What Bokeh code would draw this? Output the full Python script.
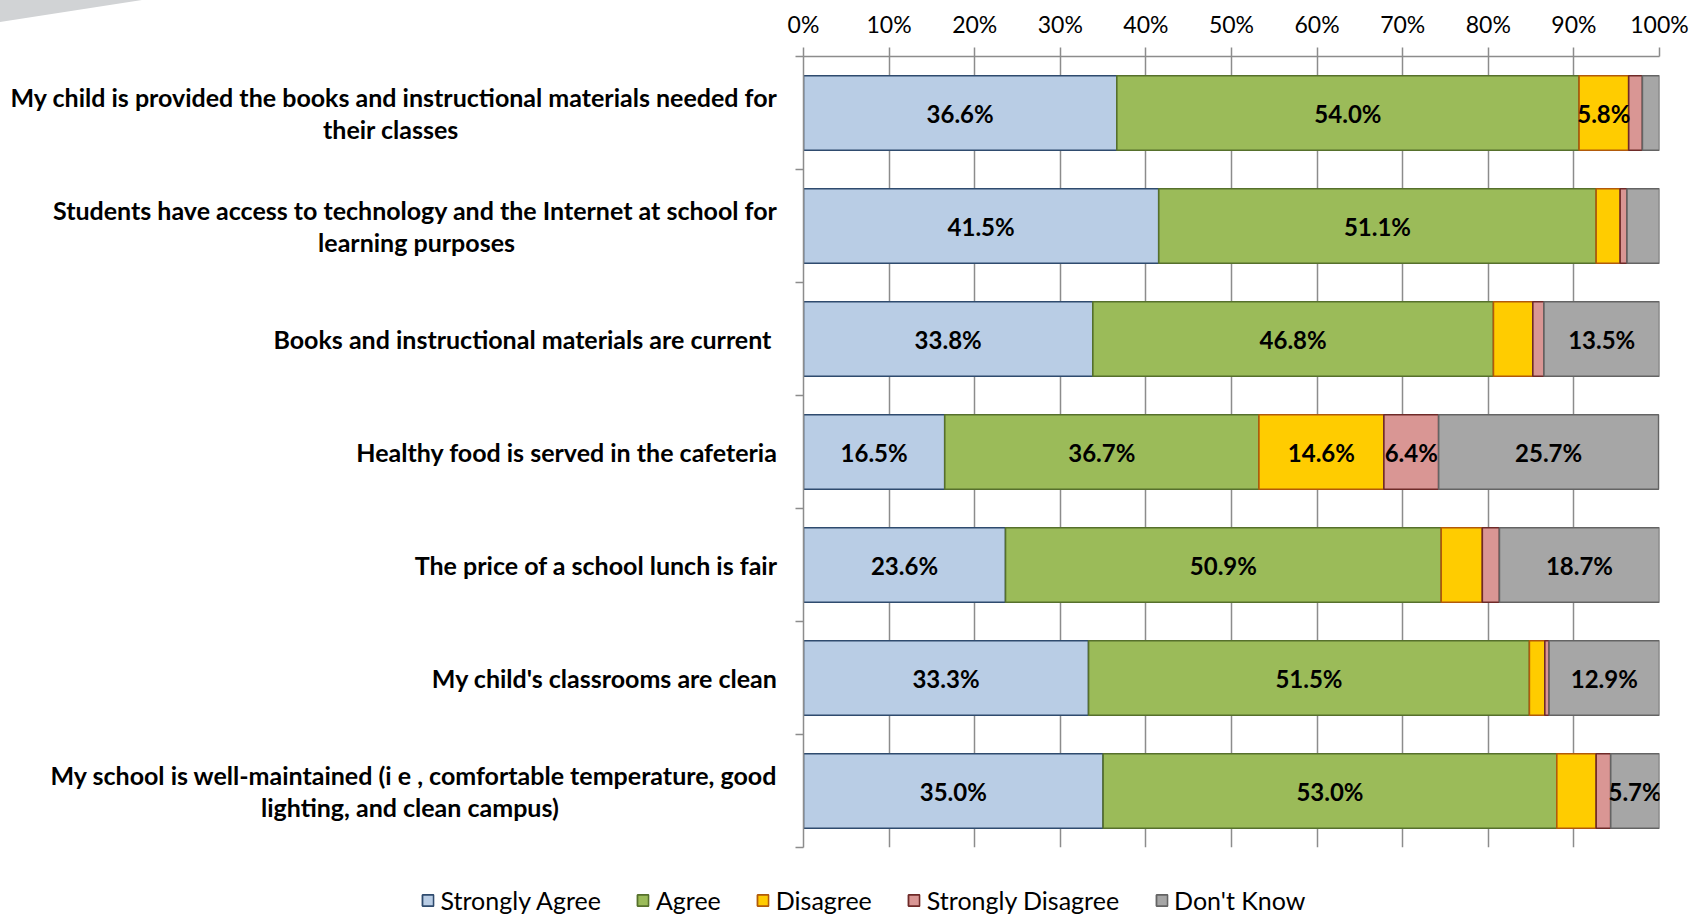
from bokeh.plotting import figure
from bokeh.models import (Range1d, FixedTicker, Legend, LegendItem, LabelSet,
                          ColumnDataSource, Div)
from bokeh.core.properties import value
from bokeh.embed import file_html
from bokeh.resources import INLINE

categories = [
    "My child is provided the books and instructional materials needed for\ntheir classes",
    "Students have access to technology and the Internet at school for\nlearning purposes",
    "Books and instructional  materials are current",
    "Healthy food is served in the cafeteria",
    "The price of a school lunch is fair",
    "My child's classrooms are clean",
    "My school is well-maintained (i e , comfortable temperature, good\nlighting, and clean campus)",
]
strongly_agree = [36.6, 41.5, 33.8, 16.5, 23.6, 33.3, 35.0]
agree = [54.0, 51.1, 46.8, 36.7, 50.9, 51.5, 53.0]
disagree = [5.8, 2.8, 4.6, 14.6, 4.8, 1.8, 4.6]
strongly_disagree = [1.6, 0.8, 1.3, 6.4, 2.0, 0.5, 1.7]
dont_know = [2.0, 3.8, 13.5, 25.7, 18.7, 12.9, 5.7]
series_names = ["Strongly Agree", "Agree", "Disagree", "Strongly Disagree", "Don't Know"]
x_ticks = [0, 10, 20, 30, 40, 50, 60, 70, 80, 90, 100]

fills = ["#B9CDE5", "#9BBB59", "#FFCC00", "#D99694", "#A6A6A6"]
borders = ["#2F4B6E", "#56702C", "#B25A0A", "#6E2A28", "#646464"]
series = [strongly_agree, agree, disagree, strongly_disagree, dont_know]

FONT = "Lato"
GRID = "#8C8C8C"
CAT_SIZE = 25

# trailing padding (in em-space characters) so a wrapped second line sits centred under the first
second_line_pad = {0: 16.8, 1: 14.0, 6: 11.6}


def pad(n):
    s = "\u2003" * int(n)
    r = n - int(n)
    if r >= 0.5:
        s += "\u2002"
        r -= 0.5
    if r >= 0.25:
        s += "\u2005"
    return s


def axis_label(i, text):
    if "\n" in text and i in second_line_pad:
        a, b = text.split("\n", 1)
        return a + "\n" + b + pad(second_line_pad[i])
    return text


n = len(categories)
ys = [i + 0.5 for i in range(n)]
W = 1692

p = figure(width=W, height=859, output_backend="svg", toolbar_location=None,
           x_range=Range1d(0, 100), y_range=Range1d(n, 0),
           x_axis_location="above", min_border_left=803, min_border_right=W - 1659,
           min_border_top=56, min_border_bottom=12)
p.outline_line_color = None

# x axis (top)
p.xaxis.ticker = FixedTicker(ticks=x_ticks)
p.xaxis.major_label_overrides = {t: f"{t}%" for t in x_ticks}
p.xaxis.major_label_text_font = FONT
p.xaxis.major_label_text_font_size = "23px"
p.xaxis.major_label_text_color = "#000000"
p.xaxis.major_tick_out = 9
p.xaxis.major_tick_in = 0
p.xaxis.minor_tick_out = 0
p.xaxis.minor_tick_in = 0
p.xaxis.axis_line_color = GRID
p.xaxis.axis_line_width = 1.5
p.xaxis.major_tick_line_color = GRID
p.xaxis.major_tick_line_width = 1.5
p.xaxis.major_label_standoff = 10

p.xgrid.ticker = FixedTicker(ticks=x_ticks)
p.xgrid.grid_line_color = GRID
p.xgrid.grid_line_width = 1.5
p.ygrid.visible = False

# y axis (left) with ticks at category boundaries
p.yaxis.ticker = FixedTicker(ticks=ys, minor_ticks=list(range(n + 1)))
p.yaxis.major_label_overrides = {y: axis_label(i, c) for i, (y, c) in enumerate(zip(ys, categories))}
p.yaxis.major_label_text_font = FONT
p.yaxis.major_label_text_font_style = "bold"
p.yaxis.major_label_text_font_size = f"{CAT_SIZE}px"
p.yaxis.major_label_text_color = "#000000"
p.yaxis.major_label_text_line_height = 1.06
p.yaxis.major_tick_out = 0
p.yaxis.major_tick_in = 0
p.yaxis.minor_tick_out = 8
p.yaxis.minor_tick_in = 0
p.yaxis.minor_tick_line_color = GRID
p.yaxis.minor_tick_line_width = 1.5
p.yaxis.axis_line_color = GRID
p.yaxis.axis_line_width = 1.5
p.yaxis.major_label_standoff = 18

left = [0.0] * n
lab_x, lab_y, lab_t = [], [], []
for name, vals, fc, lc in zip(series_names, series, fills, borders):
    right = [l + v for l, v in zip(left, vals)]
    src = ColumnDataSource(dict(y=ys, left=left, right=right))
    p.hbar(y="y", left="left", right="right", height=0.66, source=src,
           fill_color=fc, line_color=lc, line_width=1.6)
    for y, l, v in zip(ys, left, vals):
        if v >= 5:
            lab_x.append(l + v / 2)
            lab_y.append(y)
            lab_t.append(f"{v:.1f}%")
    left = right

labels = LabelSet(x="x", y="y", text="t",
                  source=ColumnDataSource(dict(x=lab_x, y=lab_y, t=lab_t)),
                  text_align="center", text_baseline="middle",
                  text_font=value(FONT), text_font_style="bold", text_font_size="24px",
                  text_color="#000000")
p.add_layout(labels)

# legend strip below the chart (a separate root, its frame centred on the chart width)
leg = figure(width=W, height=63, output_backend="svg", toolbar_location=None,
             x_range=Range1d(0, 1), y_range=Range1d(0, 1),
             min_border_left=34, min_border_right=0, min_border_top=19, min_border_bottom=0)
leg.outline_line_color = None
leg.axis.visible = False
leg.grid.visible = False
items = []
for name, fc, lc in zip(series_names, fills, borders):
    r = leg.hbar(y=[0.5], left=[0.5], right=[0.5], height=0.0, fill_color=fc,
                 line_color=lc, line_width=1.8)
    r.visible = False
    items.append(LegendItem(label=name, renderers=[r]))
legend = Legend(items=items, orientation="horizontal", location="center",
                label_text_font=FONT, label_text_font_size="25px",
                label_text_color="#000000",
                glyph_width=14, glyph_height=14, label_standoff=6, spacing=35,
                padding=0, margin=0, border_line_color=None,
                background_fill_alpha=0)
leg.add_layout(legend, "center")

corner = Div(text='<div style="position:fixed;left:0;top:0;width:0;height:0;'
                  'border-top:22px solid #D1D3D5;border-right:142px solid transparent;"></div>',
             width=1, height=1)

open("out.html", "w").write(file_html([p, leg, corner], INLINE))
